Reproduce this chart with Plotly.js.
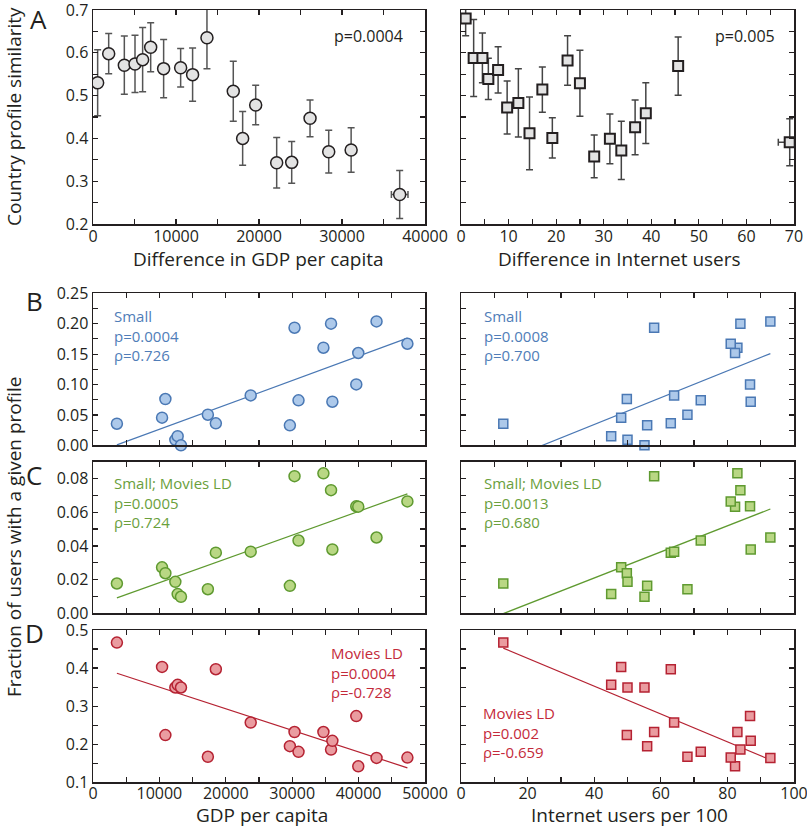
<!DOCTYPE html>
<html>
<head>
<meta charset="utf-8">
<script src="https://cdn.plot.ly/plotly-3.0.1.min.js"></script>
<style>html,body{margin:0;padding:0;background:#fff}#plot{width:807px;height:827px}</style>
</head>
<body>
<div id="plot"></div>
<script>
// ---------- Panel A data ----------
const gdpDiff = [560,1890,3775,5060,5980,6950,8510,10560,12000,13730,16900,18030,19600,22130,23940,26150,28400,31100,36950];
const simGdp  = [0.530,0.598,0.571,0.574,0.584,0.613,0.563,0.565,0.549,0.635,0.510,0.400,0.478,0.343,0.344,0.447,0.369,0.373,0.269];
const errGdp  = [0.077,0.047,0.068,0.067,0.075,0.057,0.068,0.045,0.062,0.072,0.070,0.063,0.046,0.059,0.049,0.043,0.050,0.052,0.056];
const xerrGdp = [0,0,0,0,0,0,0,0,0,0,0,0,0,0,0,0,0,0,1000];

const netDiff = [0.98,2.66,4.5,5.75,7.8,9.7,12.06,14.4,17.1,19.2,22.4,25.0,28.0,31.3,33.7,36.6,38.85,45.65,69.1];
const simNet  = [0.680,0.588,0.588,0.539,0.560,0.472,0.483,0.412,0.514,0.401,0.582,0.529,0.358,0.399,0.372,0.426,0.459,0.569,0.391];
const errNet  = [0.040,0.090,0.058,0.048,0.054,0.062,0.080,0.085,0.053,0.047,0.058,0.077,0.050,0.058,0.068,0.064,0.071,0.068,0.055];
const xerrNet = [0,0,0,0,0,0,0,0,0,0,0,0,0,0,0,0,0,0,2.4];

// ---------- Panels B-D data (one entry per country) ----------
const gdp        = [3600,10400,10900,12400,12750,13250,17300,18500,23750,29650,30350,30950,34700,35850,36050,39650,39950,42700,47350];
const internet   = [12.7,48.1,49.8,50.0,45.1,55.1,68.0,63.0,64.0,55.9,58.0,72.0,83.0,83.9,87.0,86.8,82.3,92.9,81.0];
const small      = [0.0355,0.0454,0.0761,0.009,0.015,0.0,0.0503,0.0361,0.0821,0.0328,0.1934,0.0739,0.1605,0.200,0.0717,0.1002,0.1518,0.2038,0.167];
const smallMovies= [0.0177,0.0273,0.0238,0.0187,0.0114,0.0098,0.0143,0.0360,0.0366,0.0163,0.0814,0.0432,0.0831,0.0731,0.0379,0.0635,0.0633,0.0450,0.0664];
const movies     = [0.467,0.403,0.224,0.349,0.356,0.349,0.167,0.397,0.257,0.195,0.232,0.180,0.232,0.186,0.209,0.274,0.142,0.164,0.165];

// ---------- text ----------
const statsBL = ["Small", "p=0.0004", "ρ=0.726"];
const statsBR = ["Small", "p=0.0008", "ρ=0.700"];
const statsCL = ["Small; Movies LD", "p=0.0005", "ρ=0.724"];
const statsCR = ["Small; Movies LD", "p=0.0013", "ρ=0.680"];
const statsDL = ["Movies LD", "p=0.0004", "ρ=-0.728"];
const statsDR = ["Movies LD", "p=0.002", "ρ=-0.659"];

const W = 807, H = 827;
const px = x => x / W, py = y => 1 - y / H;
const FONT = "Open Sans, Noto Sans, sans-serif";
const INK = "#231f20";

const BLUE = {text:"#4f7db8", fill:"#adc9ea", line:"#4a78b4"};
const GREEN = {text:"#6aa03c", fill:"#b9d784", line:"#5f9a30"};
const RED = {text:"#c42a3a", fill:"#ea9ca0", line:"#b52232"};

function linfit(x, y) {
  const n = x.length;
  let sx=0, sy=0, sxx=0, sxy=0;
  for (let i=0;i<n;i++){sx+=x[i];sy+=y[i];sxx+=x[i]*x[i];sxy+=x[i]*y[i];}
  const b = (n*sxy - sx*sy)/(n*sxx - sx*sx);
  const a = (sy - b*sx)/n;
  const x0 = Math.min(...x), x1 = Math.max(...x);
  return {x:[x0,x1], y:[a+b*x0, a+b*x1]};
}

const traces = [];
// Panel A
traces.push({x:gdpDiff, y:simGdp, xaxis:'x', yaxis:'y', type:'scatter', mode:'markers',
  error_y:{type:'data', array:errGdp, color:'#555', thickness:1.5, width:3.5},
  error_x:{type:'data', array:xerrGdp, color:'#555', thickness:1.5, width:3.5},
  marker:{symbol:'circle', size:12, color:'#e3e3e3', line:{color:INK, width:1.5}}});
traces.push({x:netDiff, y:simNet, xaxis:'x2', yaxis:'y2', type:'scatter', mode:'markers',
  error_y:{type:'data', array:errNet, color:'#444', thickness:1.5, width:3.5},
  error_x:{type:'data', array:xerrNet, color:'#444', thickness:1.5, width:3.5},
  marker:{symbol:'square', size:10, color:'#e3e3e3', line:{color:INK, width:2}}});

function addPanel(xv, yv, xa, ya, sym, col) {
  const f = linfit(xv, yv);
  traces.push({x:f.x, y:f.y, xaxis:xa, yaxis:ya, type:'scatter', mode:'lines',
    line:{color:col.line, width:1.2}});
  traces.push({x:xv, y:yv, xaxis:xa, yaxis:ya, type:'scatter', mode:'markers', cliponaxis:false,
    marker:{symbol:sym, size: sym==='circle'?11:9, color:col.fill, line:{color:col.line, width:1.5}}});
}
addPanel(gdp, small, 'x3', 'y3', 'circle', BLUE);
addPanel(internet, small, 'x4', 'y4', 'square', BLUE);
addPanel(gdp, smallMovies, 'x5', 'y5', 'circle', GREEN);
addPanel(internet, smallMovies, 'x6', 'y6', 'square', GREEN);
addPanel(gdp, movies, 'x7', 'y7', 'circle', RED);
addPanel(internet, movies, 'x8', 'y8', 'square', RED);

function ax(o) {
  return Object.assign({
    showline:true, mirror:'ticks', linecolor:INK, linewidth:1.5,
    ticks:'inside', ticklen:5, tickwidth:1.2, tickcolor:INK,
    showgrid:false, zeroline:false, fixedrange:true, automargin:false,
    ticklabeloverflow:'allow',
    tickfont:{family:FONT, size:16, color:INK},
  }, o);
}
const mn = d => ({dtick:d, ticks:'inside', ticklen:5, tickwidth:1.2, tickcolor:INK});
const L = [px(93), px(425)], R = [px(461), px(794)];
const yA = [py(224), py(10)], yB = [py(445.3), py(293.3)], yC = [py(613.3), py(461.7)], yD = [py(782.3), py(630)];

const layout = {
  width:W, height:H, margin:{l:0,r:0,t:0,b:0}, showlegend:false,
  paper_bgcolor:'#fff', plot_bgcolor:'#fff',
  font:{family:FONT, color:INK},
  xaxis: ax({domain:L, anchor:'y', range:[0,40000.01], dtick:10000, tick0:0, tickformat:'d', ticklabelstandoff:-3, minor:mn(5000)}),
  yaxis: ax({domain:yA, anchor:'x', range:[0.2,0.70001], dtick:0.1, tick0:0.2, tickformat:'.1f', minor:mn(0.05)}),
  xaxis2: ax({domain:R, anchor:'y2', range:[0,70.0001], dtick:10, tick0:0, ticklabelstandoff:-3, minor:mn(5)}),
  yaxis2: ax({domain:yA, anchor:'x2', range:[0.2,0.70001], dtick:0.1, tick0:0.2, showticklabels:false, minor:mn(0.05)}),
  xaxis3: ax({domain:L, anchor:'y3', range:[0,50000.01], dtick:10000, tick0:0, showticklabels:false, minor:mn(5000)}),
  yaxis3: ax({domain:yB, anchor:'x3', range:[0,0.250001], dtick:0.05, tick0:0, tickformat:'.2f', minor:mn(0.025)}),
  xaxis4: ax({domain:R, anchor:'y4', range:[0,100.0001], dtick:20, tick0:0, showticklabels:false, minor:mn(10)}),
  yaxis4: ax({domain:yB, anchor:'x4', range:[0,0.250001], dtick:0.05, tick0:0, showticklabels:false, minor:mn(0.025)}),
  xaxis5: ax({domain:L, anchor:'y5', range:[0,50000.01], dtick:10000, tick0:0, showticklabels:false, minor:mn(5000)}),
  yaxis5: ax({domain:yC, anchor:'x5', range:[0,0.09], dtick:0.02, tick0:0, tickformat:'.2f', minor:mn(0.01)}),
  xaxis6: ax({domain:R, anchor:'y6', range:[0,100.0001], dtick:20, tick0:0, showticklabels:false, minor:mn(10)}),
  yaxis6: ax({domain:yC, anchor:'x6', range:[0,0.09], dtick:0.02, tick0:0, showticklabels:false, minor:mn(0.01)}),
  xaxis7: ax({domain:L, anchor:'y7', range:[0,50000.01], dtick:10000, tick0:0, tickformat:'d', ticklabelstandoff:-4, minor:mn(5000)}),
  yaxis7: ax({domain:yD, anchor:'x7', range:[0.1,0.50001], dtick:0.1, tick0:0.1, tickformat:'.1f', minor:mn(0.05)}),
  xaxis8: ax({domain:R, anchor:'y8', range:[0,100.0001], dtick:20, tick0:0, ticklabelstandoff:-4, minor:mn(10)}),
  yaxis8: ax({domain:yD, anchor:'x8', range:[0.1,0.50001], dtick:0.1, tick0:0.1, showticklabels:false, minor:mn(0.05)}),
  annotations: []
};

function ann(x, y, text, o) {
  layout.annotations.push(Object.assign({xref:'paper', yref:'paper', x:px(x), y:py(y), text:text,
    showarrow:false, font:{family:FONT, size:19, color:INK}, xanchor:'center', yanchor:'middle'}, o||{}));
}
// axis titles
ann(258, 259, "Difference in GDP per capita");
ann(619, 259, "Difference in Internet users");
ann(262, 815, "GDP per capita");
ann(629, 815, "Internet users per 100");
ann(14, 117, "Country profile similarity", {textangle:-90});
ann(14, 537, "Fraction of users with a given profile", {textangle:-90});
// panel letters
const letter = (x, y, t) => ann(x, y, t, {font:{family:FONT, size:26, color:INK}});
letter(38, 19, "A");
letter(34, 301, "B");
letter(34, 475, "C");
letter(34, 633, "D");
// p values panel A
ann(368, 36, "p=0.0004", {font:{family:FONT, size:16, color:INK}});
ann(745, 36, "p=0.005", {font:{family:FONT, size:16, color:INK}});
// stats blocks (y = centre of the middle line)
function stats(x, yMid, lines, c) {
  ann(x, yMid, lines.join("<br>"), {xanchor:'left', yanchor:'middle', align:'left', font:{family:FONT, size:15, color:c}});
}
stats(112, 336, statsBL, BLUE.text);
stats(482, 336, statsBR, BLUE.text);
stats(112, 502, statsCL, GREEN.text);
stats(482, 502, statsCR, GREEN.text);
stats(329, 672, statsDL, RED.text);
stats(481, 732, statsDR, RED.text);

Plotly.newPlot('plot', traces, layout, {staticPlot:true, displayModeBar:false});
</script>
</body>
</html>
